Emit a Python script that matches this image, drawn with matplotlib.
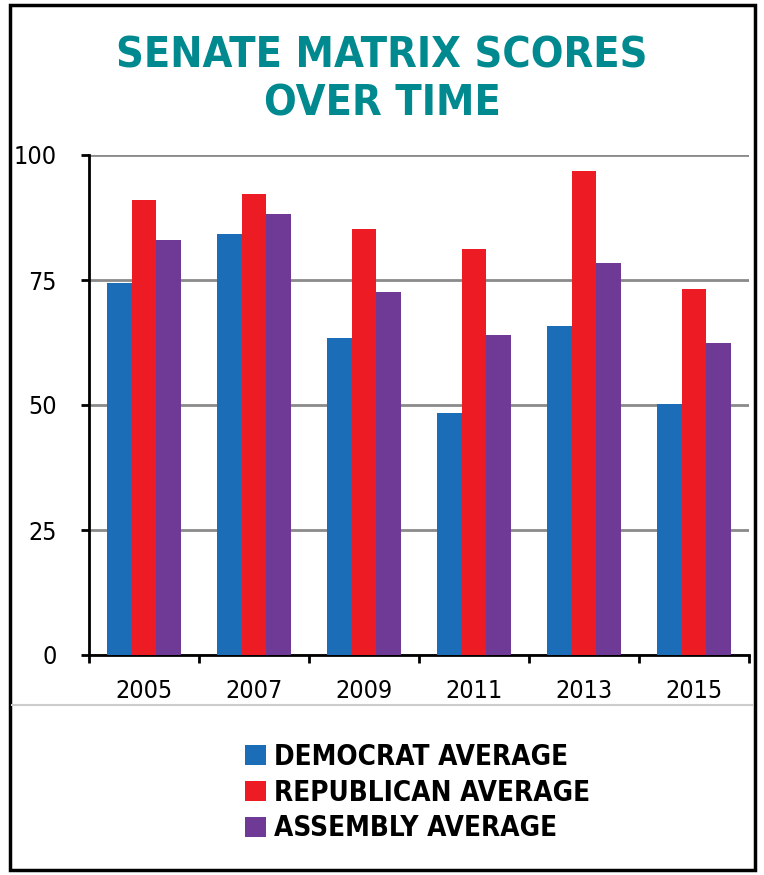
import matplotlib
matplotlib.use("Agg")
import matplotlib.pyplot as plt
import numpy as np
from matplotlib.patches import Patch, Rectangle
from matplotlib.lines import Line2D

years = ["2005", "2007", "2009", "2011", "2013", "2015"]
democrat = [74.5, 84.2, 63.5, 48.5, 65.8, 50.3]
republican = [91.1, 92.3, 85.3, 81.3, 96.8, 73.3]
assembly = [83.1, 88.2, 72.7, 64.1, 78.5, 62.5]
series_names = ["DEMOCRAT AVERAGE", "REPUBLICAN AVERAGE", "ASSEMBLY AVERAGE"]
colors = ["#1B6DB8", "#ED1C24", "#6E3A96"]
yticks = [0, 25, 50, 75, 100]

FONT = ["DejaVu Sans"]
plt.rcParams["font.family"] = FONT
plt.rcParams["font.stretch"] = "condensed"

W, H = 764, 875
fig = plt.figure(figsize=(W / 100, H / 100), dpi=100)

ax = fig.add_axes([89 / W, (H - 655) / H, 660 / W, 500 / H])
x = np.arange(len(years))
bw = 0.222
for i, (vals, c) in enumerate(zip([democrat, republican, assembly], colors)):
    ax.bar(x + (i - 1) * bw, vals, width=bw, color=c, zorder=3, linewidth=0)

ax.set_xlim(-0.5, len(years) - 0.5)
ax.set_ylim(0, 100)
ax.set_yticks(yticks)
ax.set_yticklabels([str(t) for t in yticks], fontsize=18, fontstretch="condensed")
ax.yaxis.grid(True, color="#8a8a8a", linewidth=2, zorder=0)
ax.set_axisbelow(True)
ax.tick_params(axis="y", length=6, width=2, pad=17, direction="out", colors="black")

ax.set_xticks(x)
ax.set_xticklabels(years, fontsize=18, fontstretch="condensed")
ax.tick_params(axis="x", which="major", length=0, pad=17)
ax.set_xticks(np.arange(-0.5, len(years)), minor=True)
ax.tick_params(axis="x", which="minor", length=6, width=2, direction="out")

for s in ["top", "right"]:
    ax.spines[s].set_visible(False)
for s in ["left", "bottom"]:
    ax.spines[s].set_linewidth(2)
    ax.spines[s].set_color("black")

# Title
title_kw = dict(ha="center", va="center", fontsize=31, fontweight="bold",
                color="#00898F", fontstretch="condensed")
fig.text(0.5, 1 - 56 / H, "SENATE MATRIX SCORES", **title_kw)
fig.text(0.5, 1 - 104 / H, "OVER TIME", **title_kw)

# separator line
fig.add_artist(Line2D([12 / W, 752 / W], [1 - 705 / H, 1 - 705 / H],
                      color="#cccccc", linewidth=1.5, transform=fig.transFigure))

# Outer frame
fig.add_artist(Rectangle((10 / W, 5 / H), 745 / W, 865 / H, fill=False,
                         edgecolor="black", linewidth=2.5, transform=fig.transFigure))

handles = [Patch(facecolor=c, edgecolor="none") for c in colors]
leg = fig.legend(handles, series_names, loc="upper left",
                 bbox_to_anchor=(231 / W, 1 - 729 / H), frameon=False,
                 prop={"family": FONT, "weight": "bold", "size": 20,
                       "stretch": "condensed"},
                 handlelength=0.75, handleheight=0.75, handletextpad=0.3,
                 labelspacing=0.28, borderpad=0)

fig.savefig("out.png", dpi=100)
